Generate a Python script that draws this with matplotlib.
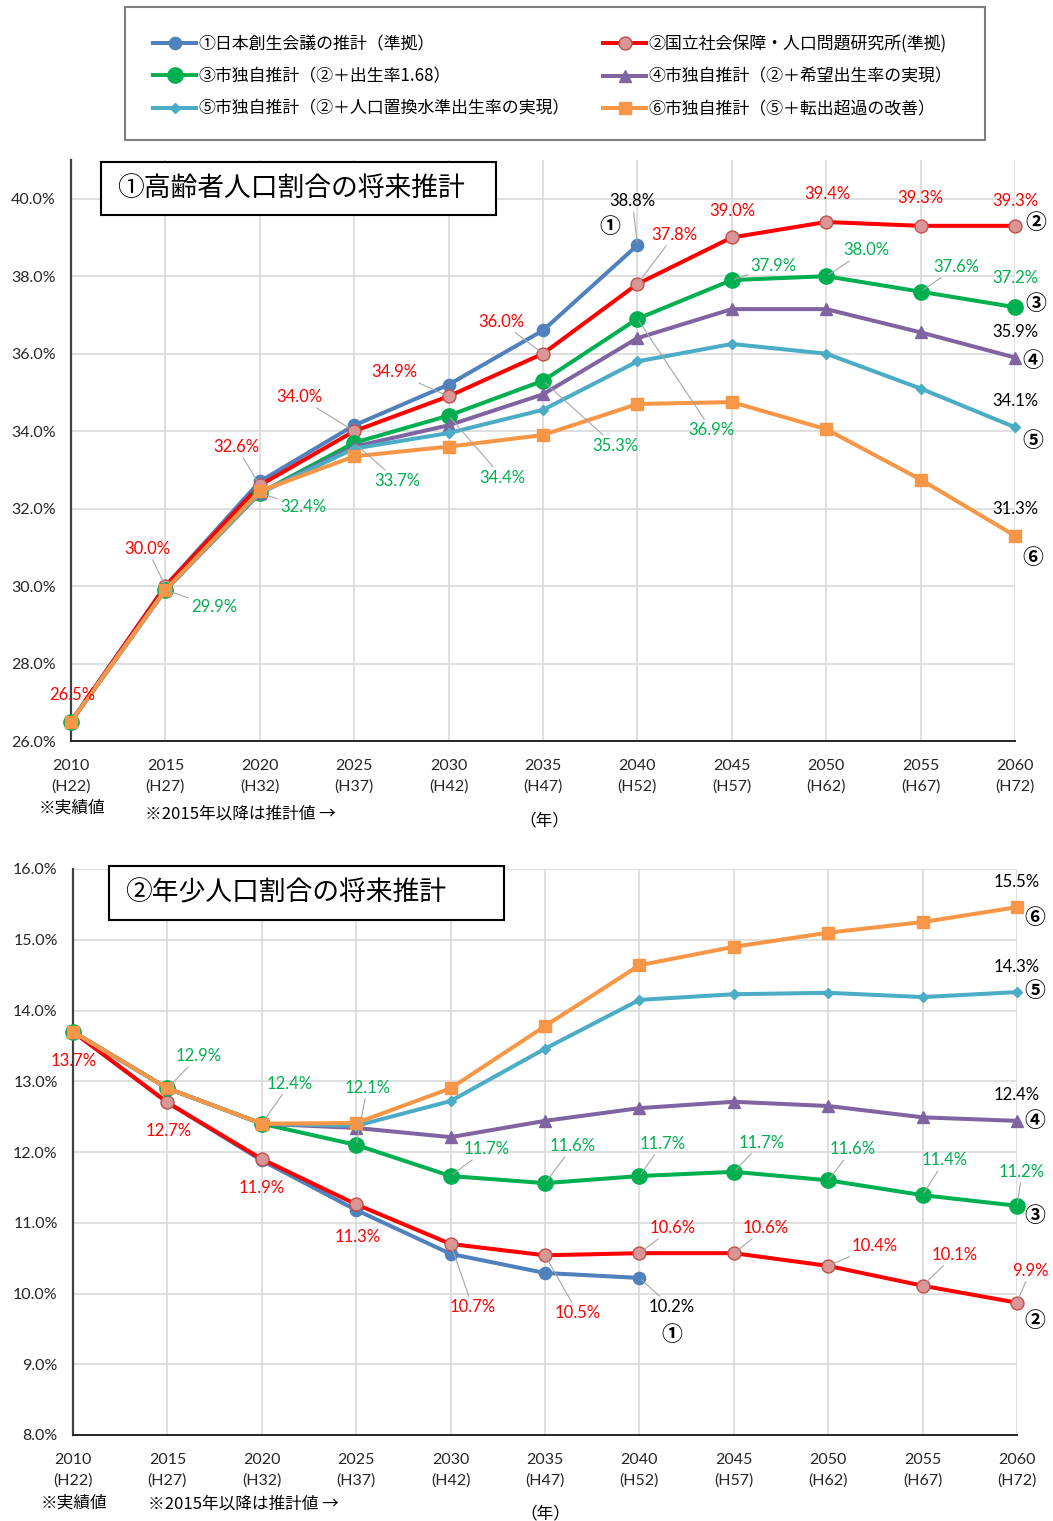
import matplotlib.pyplot as plt
from matplotlib.lines import Line2D
from matplotlib.patches import Rectangle

plt.rcParams["font.family"] = ["Noto Sans CJK JP", "DejaVu Sans"]
NUM_FONT = ["Lato", "Noto Sans CJK JP", "DejaVu Sans"]

W, H = 1053, 1521

# ---- data ----
years = [2010, 2015, 2020, 2025, 2030, 2035, 2040, 2045, 2050, 2055, 2060]
heisei = ["H22", "H27", "H32", "H37", "H42", "H47", "H52", "H57", "H62", "H67", "H72"]

series_names = [
    "①日本創生会議の推計（準拠）",
    "②国立社会保障・人口問題研究所(準拠)",
    "③市独自推計（②＋出生率1.68）",
    "④市独自推計（②＋希望出生率の実現）",
    "⑤市独自推計（②＋人口置換水準出生率の実現）",
    "⑥市独自推計（⑤＋転出超過の改善）",
]
circled = ["①", "②", "③", "④", "⑤", "⑥"]

# ① elderly population ratio (%)
elderly_1 = [26.5, 30.0, 32.7, 34.15, 35.2, 36.6, 38.8]
elderly_2 = [26.5, 30.0, 32.6, 34.0, 34.9, 36.0, 37.8, 39.0, 39.4, 39.3, 39.3]
elderly_3 = [26.5, 29.9, 32.4, 33.7, 34.4, 35.3, 36.9, 37.9, 38.0, 37.6, 37.2]
elderly_4 = [26.5, 29.9, 32.4, 33.6, 34.15, 34.95, 36.4, 37.15, 37.15, 36.55, 35.9]
elderly_5 = [26.5, 29.9, 32.4, 33.55, 33.95, 34.55, 35.8, 36.25, 36.0, 35.1, 34.1]
elderly_6 = [26.5, 29.9, 32.45, 33.35, 33.6, 33.9, 34.7, 34.75, 34.05, 32.75, 31.3]

# ② youth population ratio (%)
youth_1 = [13.7, 12.7, 11.88, 11.18, 10.56, 10.29, 10.22]
youth_2 = [13.7, 12.7, 11.9, 11.26, 10.7, 10.54, 10.57, 10.57, 10.39, 10.11, 9.87]
youth_3 = [13.7, 12.9, 12.4, 12.1, 11.66, 11.56, 11.66, 11.72, 11.6, 11.39, 11.24]
youth_4 = [13.7, 12.9, 12.4, 12.34, 12.21, 12.44, 12.62, 12.71, 12.65, 12.49, 12.44]
youth_5 = [13.7, 12.9, 12.4, 12.37, 12.72, 13.46, 14.15, 14.23, 14.25, 14.19, 14.26]
youth_6 = [13.7, 12.9, 12.4, 12.41, 12.9, 13.78, 14.64, 14.9, 15.1, 15.25, 15.46]

elderly = [elderly_1, elderly_2, elderly_3, elderly_4, elderly_5, elderly_6]
youth = [youth_1, youth_2, youth_3, youth_4, youth_5, youth_6]

# ---- styles ----
RED = "#FF0000"
GREEN = "#00B050"
BLACK = "#000000"
LEADER = "#A6A6A6"

styles = [
    dict(color="#4F81BD", marker="o", ms=8.8, mfc="#4F81BD", mec="#4F81BD"),
    dict(color="#FF0000", marker="o", ms=9.3, mfc="#D99694", mec="#C0504D", mew=1.0),
    dict(color="#00B050", marker="o", ms=11, mfc="#00B050", mec="#00B050"),
    dict(color="#8064A2", marker="^", ms=9, mfc="#8064A2", mec="#8064A2"),
    dict(color="#4BACC6", marker="D", ms=5.5, mfc="#4BACC6", mec="#4BACC6"),
    dict(color="#F79646", marker="s", ms=8, mfc="#F79646", mec="#F79646"),
]

# label layout: (series, point, dx px, dy px, color, leader line)
top_labels = [
    (1, 0, 1, 27, RED, False), (1, 1, -18, 37, RED, True), (1, 2, -23, 38, RED, True),
    (1, 3, -55, 34, RED, True), (1, 4, -54, 24, RED, True), (1, 5, -42, 32, RED, True),
    (1, 6, 37, 49, RED, True), (1, 7, 1, 26, RED, False), (1, 8, 1, 28, RED, False),
    (1, 9, 0, 28, RED, False), (1, 10, 0, 25, RED, False),
    (2, 1, 49, -17, GREEN, True), (2, 2, 44, -14, GREEN, True), (2, 3, 43, -38, GREEN, True),
    (2, 4, 54, -62, GREEN, True), (2, 5, 72, -65, GREEN, True), (2, 6, 74, -111, GREEN, True),
    (2, 7, 42, 14, GREEN, True), (2, 8, 40, 26, GREEN, True), (2, 9, 36, 25, GREEN, True),
    (2, 10, 0, 29, GREEN, False),
    (0, 6, -5, 44, BLACK, True),
    (3, 10, 0, 26, BLACK, False), (4, 10, 0, 26, BLACK, False), (5, 10, 0, 27, BLACK, False),
]
top_marks = [(0, 6, -28, 19), (1, 10, 21, 3), (2, 10, 21, 4),
             (3, 10, 18, -3), (4, 10, 18, -13), (5, 10, 18, -22)]

bottom_labels = [
    (1, 0, 1, -29, RED, False), (1, 1, 1, -29, RED, False), (1, 2, 0, -29, RED, False),
    (1, 3, 1, -33, RED, False), (1, 4, 22, -63, RED, True), (1, 5, 33, -58, RED, True),
    (1, 6, 33, 25, RED, True), (1, 7, 32, 25, RED, True), (1, 8, 46, 20, RED, True),
    (1, 9, 32, 31, RED, True), (1, 10, 13, 32, RED, True),
    (2, 1, 31, 32, GREEN, True), (2, 2, 28, 40, GREEN, True), (2, 3, 11, 57, GREEN, True),
    (2, 4, 36, 27, GREEN, True), (2, 5, 28, 37, GREEN, True), (2, 6, 23, 32, GREEN, True),
    (2, 7, 28, 29, GREEN, True), (2, 8, 24, 31, GREEN, True), (2, 9, 22, 35, GREEN, True),
    (2, 10, 5, 34, GREEN, True),
    (0, 6, 32, -29, BLACK, True),
    (3, 10, 0, 26, BLACK, False), (4, 10, 0, 25, BLACK, False), (5, 10, 0, 25, BLACK, False),
]
bottom_marks = [(0, 6, 32, -57), (1, 10, 18, -18), (2, 10, 18, -10),
                (3, 10, 18, 0), (4, 10, 18, 2), (5, 10, 18, -10)]


def fx(px):
    return px / W


def fy(py):
    return 1 - py / H


def draw_panel(ax, data, yticks, ylim, labels, marks):
    x = list(range(len(years)))
    for values, st in zip(data, styles):
        ax.plot(x[:len(values)], values, lw=2.9, clip_on=False, zorder=3, **st)

    for s, i, dx, dy, color, leader in labels:
        props = None
        if leader:
            props = dict(arrowstyle="-", color=LEADER, lw=0.8, shrinkA=0, shrinkB=2)
        ax.annotate(f"{data[s][i]:.1f}%", xy=(i, data[s][i]), xytext=(dx, dy),
                    textcoords="offset pixels", ha="center", va="center",
                    color=color, fontsize=12, family=NUM_FONT,
                    arrowprops=props, zorder=6, annotation_clip=False)
    for s, i, dx, dy in marks:
        ax.annotate(circled[s], xy=(i, data[s][i]), xytext=(dx, dy),
                    textcoords="offset pixels", ha="center", va="center",
                    color=BLACK, fontsize=15, fontweight="bold",
                    zorder=6, annotation_clip=False)

    ax.set_xlim(0, len(years) - 1)
    ax.set_ylim(*ylim)
    ax.set_xticks(x)
    ax.set_xticklabels([f"{y}\n({h})" for y, h in zip(years, heisei)],
                       fontsize=11.5, family=NUM_FONT, linespacing=1.55)
    ax.set_yticks(yticks)
    ax.set_yticklabels([f"{v:.1f}%" for v in yticks], fontsize=11.5, family=NUM_FONT)
    ax.tick_params(length=0, colors="#262626")
    ax.tick_params(axis="x", pad=13)
    ax.tick_params(axis="y", pad=11)
    ax.grid(True, color="#D9D9D9", lw=1.2)
    ax.set_axisbelow(True)
    for side in ("top", "right"):
        ax.spines[side].set_visible(False)
    ax.spines["left"].set_color("#404040")
    ax.spines["left"].set_linewidth(1.6)
    ax.spines["bottom"].set_color("#262626")
    ax.spines["bottom"].set_linewidth(1.4)


def title_box(x0, y0, x1, y1, tx, text):
    fig.add_artist(Rectangle((fx(x0), fy(y1)), fx(x1 - x0), (y1 - y0) / H,
                             transform=fig.transFigure, facecolor="white",
                             edgecolor="black", lw=1.5, zorder=5))
    fig.text(fx(tx), fy((y0 + y1) / 2), text, fontsize=19.3, ha="left", va="center",
             zorder=6)


def notes(y_left, y_mid, y_year, x_left, x_mid, x_year):
    fig.text(fx(x_left), fy(y_left), "※実績値", fontsize=12, ha="center", va="center")
    fig.text(fx(x_mid), fy(y_mid), "※2015年以降は推計値 →", fontsize=12,
             ha="left", va="center")
    fig.text(fx(x_year), fy(y_year), "（年）", fontsize=12, ha="center", va="center")


fig = plt.figure(figsize=(W / 100, H / 100), dpi=100)

ax1 = fig.add_axes([fx(71), fy(741), fx(944), 581 / H])
draw_panel(ax1, elderly, list(range(26, 41, 2)), (26, 41), top_labels, top_marks)

ax2 = fig.add_axes([fx(73), fy(1435), fx(944), 566 / H])
draw_panel(ax2, youth, list(range(8, 17)), (8, 16), bottom_labels, bottom_marks)

title_box(101, 162, 496, 215, 117, "①高齢者人口割合の将来推計")
title_box(109, 866, 504, 920, 125, "②年少人口割合の将来推計")

notes(808, 814, 821, 72, 145, 544)
notes(1503, 1504, 1514, 74, 148, 545)

# legend
fig.add_artist(Rectangle((fx(125), fy(140)), fx(860), 133 / H,
                         transform=fig.transFigure, fill=False,
                         edgecolor="#7F7F7F", lw=1.5, zorder=5))
handles = [Line2D([], [], lw=2.9, **st) for st in styles]
for col, x0 in ((0, 153), (1, 603)):
    idx = [col, col + 2, col + 4]
    fig.legend([handles[i] for i in idx], [series_names[i] for i in idx],
               loc="upper left", bbox_to_anchor=(fx(x0), fy(35)), frameon=False,
               borderpad=0, borderaxespad=0, fontsize=12.2, handlelength=2.55,
               handletextpad=0.15, labelspacing=0.85)

fig.savefig("out.png", dpi=100, facecolor="white")
